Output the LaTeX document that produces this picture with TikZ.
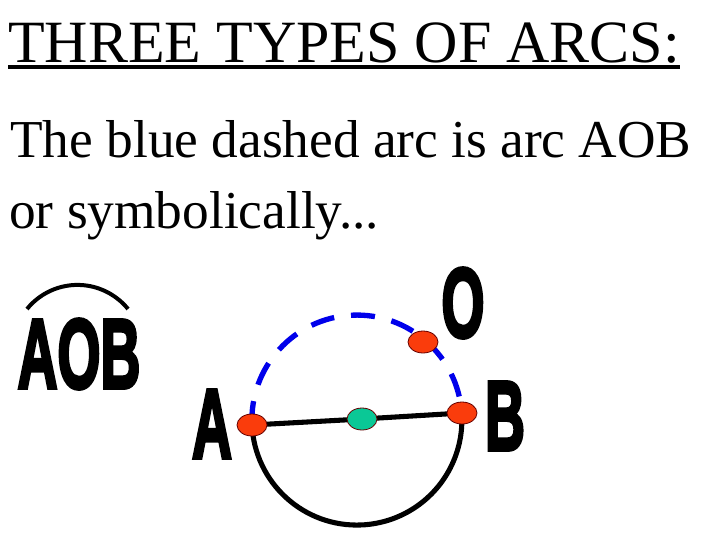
\documentclass[tikz,border=0pt]{standalone}
\usepackage{fontspec}
\setmainfont{Liberation Serif}
\newfontfamily\labelfont{Liberation Sans}[BoldFeatures={FakeBold=4}]
\usetikzlibrary{shapes.geometric}
\definecolor{ptred}{RGB}{250,60,12}
\definecolor{ptgreen}{RGB}{10,200,150}
\definecolor{arcblue}{RGB}{0,0,235}
\tikzset{
  pt/.style={ellipse, draw=black!60!red, line width=0.6pt, inner sep=0pt,
    minimum width=22.5pt, minimum height=16.5pt},
  redpt/.style={pt, fill=ptred},
  greenpt/.style={pt, fill=ptgreen},
  biglabel/.style={inner sep=0pt, xscale=0.56,
    font=\labelfont\bfseries\fontsize{74}{76}\selectfont},
  textline/.style={inner sep=0pt, anchor=base west}
}
\begin{document}
\begin{tikzpicture}[x=0.75pt, y=-0.75pt]
\useasboundingbox (0,0) rectangle (720,540);

\def \cx {357}
\def \cy {420}
\def \r {78.75pt}

% text
\node[textline, font=\fontsize{45}{54}\selectfont] (title) at (8,62) {THREE TYPES OF ARCS:};
\draw[line width=3pt] ([yshift=-4pt]title.base west) -- ([yshift=-4pt]title.base east);
\node[textline, font=\fontsize{40}{48}\selectfont] (line1) at (10,157) {The blue dashed arc is arc AOB};
\node[textline, font=\fontsize{40}{48}\selectfont] (line2) at (9,228) {or symbolically...};

% symbol
\node[biglabel] (sym) at (79,354) {AOB};
\draw[line width=3pt] (27,309) arc[start angle=141, end angle=39, radius=48.75pt];

% circle points
\coordinate (cA) at (252,425);
\coordinate (cB) at (462,413);
\coordinate (cM) at (362,419);
\coordinate (cO) at (423,342);

\draw[line width=3.8pt] (cA) arc[start angle=182.7, end angle=363.8, radius=\r];
\draw[line width=4pt, arcblue, dash pattern=on 18pt off 12.75pt] (cA) arc[start angle=182.7, end angle=3.8, radius=\r];
\draw[line width=3.8pt] (cA) -- (cM) -- (cB);

\node[redpt] (pA) at (cA) {};
\node[redpt] (pB) at (cB) {};
\node[redpt] (pO) at (cO) {};
\node[greenpt] (pM) at (cM) {};

\node[biglabel] (lA) at (212,424) {A};
\node[biglabel] (lB) at (505,416) {B};
\node[biglabel] (lO) at (463,303) {O};

\end{tikzpicture}
\end{document}
